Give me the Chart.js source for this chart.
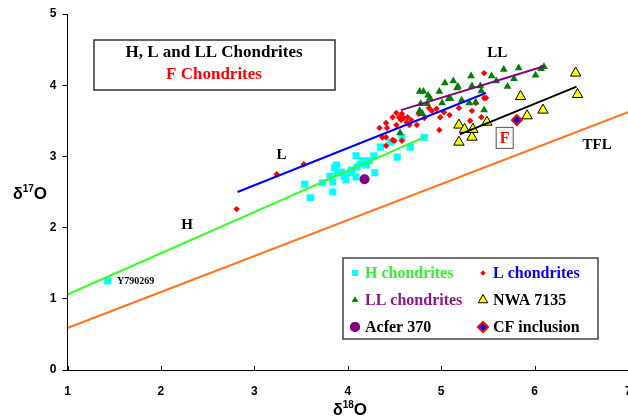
<!DOCTYPE html>
<html>
<head>
<meta charset="utf-8">
<script src="https://cdn.jsdelivr.net/npm/chart.js@4.4.1/dist/chart.umd.min.js"></script>
<style>
  html, body { margin: 0; padding: 0; background: #fff; overflow: hidden; }
  #wrap { width: 628px; height: 418px; position: relative; }
</style>
</head>
<body>
<div id="wrap"><canvas id="chart"></canvas></div>
<script>
const hPoints = [
  [1.43, 1.25], [3.54, 2.61], [3.60, 2.42], [3.84, 2.50], [3.73, 2.63], [3.81, 2.72],
  [3.84, 2.64], [3.88, 2.88], [3.89, 2.77], [3.86, 2.84], [3.96, 2.72], [3.98, 2.67],
  [3.93, 2.78], [4.03, 2.77], [4.09, 3.01], [4.10, 2.85], [4.09, 2.71], [4.16, 2.94],
  [4.20, 2.88], [4.23, 2.94], [4.28, 3.01], [4.29, 2.77], [4.35, 3.13], [4.53, 2.99],
  [4.67, 3.13], [4.13, 2.89], [4.04, 2.81], [4.58, 3.27], [4.46, 3.20], [4.82, 3.27]
];
const lPoints = [
  [2.81, 2.26], [3.24, 2.75], [3.53, 2.89], [4.34, 3.40], [4.41, 3.47], [4.42, 3.40],
  [4.37, 3.27], [4.48, 3.55], [4.52, 3.61], [4.55, 3.55], [4.57, 3.51], [4.60, 3.54],
  [4.63, 3.48], [4.58, 3.60], [4.64, 3.55], [4.68, 3.51], [4.66, 3.44], [4.52, 3.44],
  [4.74, 3.44], [4.82, 3.54], [4.87, 3.68], [4.90, 3.64], [4.95, 3.67], [4.99, 3.55],
  [5.03, 3.62], [5.09, 3.58], [4.98, 3.37], [4.76, 3.60], [5.19, 3.68], [5.33, 3.64],
  [5.43, 3.55], [5.46, 3.82], [5.46, 4.17], [5.48, 3.82], [5.37, 3.75], [4.50, 3.22],
  [4.41, 3.27], [4.48, 3.23], [4.58, 3.22], [4.41, 3.15], [5.31, 3.50]
];
const llPoints = [
  [4.56, 3.33], [4.77, 3.91], [4.81, 3.91], [4.86, 3.86], [4.98, 3.91], [5.04, 4.03],
  [5.13, 4.06], [5.18, 3.98], [5.32, 4.13], [5.33, 3.99], [5.42, 3.99], [5.54, 4.13],
  [5.59, 4.06], [5.67, 4.22], [5.71, 3.98], [5.78, 4.09], [5.83, 4.24], [6.01, 4.14],
  [6.10, 4.26], [6.07, 4.23], [5.01, 3.75], [5.10, 3.81], [5.17, 3.96], [5.22, 3.79],
  [5.37, 3.76], [5.46, 3.65], [4.78, 3.74], [4.85, 3.74], [4.77, 3.64], [4.80, 3.60],
  [4.88, 3.82], [5.08, 3.81], [5.30, 3.75], [5.43, 3.92]
];
const nwaPoints = [
  [5.19, 3.20], [5.19, 3.44], [5.25, 3.38], [5.33, 3.27], [5.34, 3.38], [5.49, 3.48],
  [5.85, 3.84], [5.92, 3.57], [6.09, 3.65], [6.44, 4.17], [6.46, 3.87]
];
const acferPoints = [[4.18, 2.68]];
const cfPoints = [[5.81, 3.51]];

// fractionation lines (end points)
const tflLine = [[1, 0.59], [7, 3.62]];
const hLine = [[1, 1.06], [4.82, 3.27]];
const lLine = [[2.82, 2.50], [5.48, 3.89]];
const llLine = [[4.57, 3.65], [6.11, 4.27]];
const nwaLine = [[5.20, 3.31], [6.45, 3.98]];

const xTicks = [1, 2, 3, 4, 5, 6, 7];
const yTicks = [0, 1, 2, 3, 4, 5];

// labels placed in data units
const notes = [
  { text: "H", x: 2.28, y: 2.04, size: 15, color: "#000", align: "center" },
  { text: "L", x: 3.29, y: 3.02, size: 15, color: "#000", align: "center" },
  { text: "LL", x: 5.60, y: 4.45, size: 15, color: "#000", align: "center" },
  { text: "TFL", x: 6.67, y: 3.16, size: 15, color: "#000", align: "center" },
  { text: "Y790269", x: 1.53, y: 1.25, size: 10, color: "#000", align: "left" }
];
const fBox = { text: "F", x: 5.68, y: 3.26 };

const toXY = arr => arr.map(p => ({ x: p[0], y: p[1] }));

const C = {
  h: "#00ffff", l: "#ff0000", ll: "#008000", nwa: "#ffff00", acfer: "#800080",
  hLine: "#33ff22", lLine: "#0000ff", llLine: "#800080", tfl: "#ff7418"
};

function lineSet(arr, color) {
  return { type: "line", data: toXY(arr), borderColor: color, borderWidth: 2,
           pointRadius: 0, showLine: true, fill: false, order: 0 };
}

const legendItems = [
  { text: "H chondrites", color: "#33ee33", style: "rect", r: 4, fill: C.h, stroke: C.h, bw: 0, col: 0, row: 0 },
  { text: "L chondrites", color: "#0000ff", style: "rectRot", r: 2.5, fill: C.l, stroke: C.l, bw: 0, col: 1, row: 0 },
  { text: "LL chondrites", color: "#8b168b", style: "triangle", r: 3.5, fill: C.ll, stroke: C.ll, bw: 0, col: 0, row: 1 },
  { text: "NWA 7135", color: "#000", style: "triangle", r: 5.5, fill: C.nwa, stroke: "#000", bw: 1, col: 1, row: 1 },
  { text: "Acfer 370", color: "#000", style: "circle", r: 5, fill: C.acfer, stroke: C.acfer, bw: 0, col: 0, row: 2 },
  { text: "CF inclusion", color: "#000", style: "rectRot", r: 5, fill: "#0000ff", stroke: "#ff0000", bw: 2, col: 1, row: 2 }
];

const decor = {
  id: "decor",
  afterDraw(chart) {
    const ctx = chart.ctx;
    const xs = chart.scales.x, ys = chart.scales.y;
    ctx.save();

    // inner tick marks on x axis
    ctx.strokeStyle = "#000";
    ctx.lineWidth = 1;
    xTicks.forEach(v => {
      const px = Math.round(xs.getPixelForValue(v)) + 0.5;
      ctx.beginPath();
      ctx.moveTo(px, ys.bottom);
      ctx.lineTo(px, ys.bottom - 4);
      ctx.stroke();
    });

    // axis titles with superscripts
    ctx.fillStyle = "#000";
    ctx.textBaseline = "alphabetic";
    ctx.textAlign = "left";
    function sup(x, y, a, b, c) {
      ctx.font = "bold 16px 'Liberation Sans', Arial";
      ctx.fillText(a, x, y);
      x += ctx.measureText(a).width;
      ctx.font = "bold 10px 'Liberation Sans', Arial";
      ctx.fillText(b, x, y - 7);
      x += ctx.measureText(b).width;
      ctx.font = "bold 17px 'Liberation Sans', Arial";
      ctx.fillText(c, x, y);
    }
    sup(13, 199, "\u03b4", "17", "O");
    sup(333, 415, "\u03b4", "18", "O");

    // line labels
    notes.forEach(n => {
      ctx.font = "bold " + n.size + "px 'Liberation Serif', 'Times New Roman'";
      ctx.fillStyle = n.color;
      ctx.textAlign = n.align;
      ctx.textBaseline = "middle";
      ctx.fillText(n.text, xs.getPixelForValue(n.x), ys.getPixelForValue(n.y));
    });

    // boxed F
    const fx = xs.getPixelForValue(fBox.x), fy = ys.getPixelForValue(fBox.y);
    ctx.strokeStyle = "#555";
    ctx.lineWidth = 1;
    ctx.strokeRect(fx - 8.5, fy - 10.5, 17, 21);
    ctx.font = "bold 16px 'Liberation Serif', 'Times New Roman'";
    ctx.fillStyle = "#ff0000";
    ctx.textAlign = "center";
    ctx.fillText(fBox.text, fx, fy + 1);

    // title box
    ctx.fillStyle = "#fff";
    ctx.fillRect(94, 40, 241, 50);
    ctx.strokeStyle = "#333";
    ctx.lineWidth = 1.5;
    ctx.strokeRect(94, 40, 241, 50);
    ctx.font = "bold 17px 'Liberation Serif', 'Times New Roman'";
    ctx.fillStyle = "#000";
    ctx.fillText("H, L and LL Chondrites", 214, 53);
    ctx.fillStyle = "#ff0000";
    ctx.fillText("F Chondrites", 214, 75);

    // legend box
    ctx.fillStyle = "#fff";
    ctx.fillRect(343, 258, 255, 81);
    ctx.strokeStyle = "#444";
    ctx.lineWidth = 1.5;
    ctx.strokeRect(343, 258, 255, 81);
    const colX = [355, 483], rowY = [273, 300, 327];
    ctx.font = "bold 16px 'Liberation Serif', 'Times New Roman'";
    ctx.textAlign = "left";
    legendItems.forEach(it => {
      const mx = colX[it.col], my = rowY[it.row];
      ctx.fillStyle = it.fill;
      ctx.strokeStyle = it.stroke;
      ctx.lineWidth = it.bw;
      Chart.helpers.drawPoint(ctx, { pointStyle: it.style, radius: it.r, rotation: 0, borderWidth: it.bw }, mx, my);
      if (!it.bw) ctx.fill();
      ctx.fillStyle = it.color;
      ctx.fillText(it.text, mx + 10, my + 1);
    });
    ctx.restore();
  }
};

new Chart(document.getElementById("chart"), {
  type: "scatter",
  data: {
    datasets: [
      { label: "H chondrites", data: toXY(hPoints), pointStyle: "rect", pointRadius: 5,
        backgroundColor: C.h, borderWidth: 0, order: 5 },
      { label: "L chondrites", data: toXY(lPoints), pointStyle: "rectRot", pointRadius: 3.2,
        backgroundColor: C.l, borderWidth: 0, order: 4 },
      { label: "LL chondrites", data: toXY(llPoints), pointStyle: "triangle", pointRadius: 4.5,
        backgroundColor: C.ll, borderWidth: 0, order: 3 },
      { label: "NWA 7135", data: toXY(nwaPoints), pointStyle: "triangle", pointRadius: 6,
        backgroundColor: C.nwa, borderColor: "#000", borderWidth: 1, order: 2 },
      { label: "Acfer 370", data: toXY(acferPoints), pointStyle: "circle", pointRadius: 5,
        backgroundColor: C.acfer, borderWidth: 0, order: 2 },
      { label: "CF inclusion", data: toXY(cfPoints), pointStyle: "rectRot", pointRadius: 5,
        backgroundColor: "#0000ff", borderColor: "#ff0000", borderWidth: 2, order: 1 },
      lineSet(tflLine, C.tfl),
      lineSet(hLine, C.hLine),
      lineSet(lLine, C.lLine),
      lineSet(llLine, C.llLine),
      lineSet(nwaLine, "#000")
    ]
  },
  options: {
    responsive: true,
    maintainAspectRatio: false,
    animation: false,
    layout: { autoPadding: false, padding: { top: 14, left: 0, right: 0, bottom: 0 } },
    plugins: { legend: { display: false }, tooltip: { enabled: false } },
    scales: {
      x: {
        type: "linear", min: 1, max: 7,
        afterBuildTicks: s => { s.ticks = xTicks.map(v => ({ value: v })); },
        afterFit: s => { s.height = 48; s.paddingLeft = 0; s.paddingRight = 0; },
        ticks: { color: "#000", padding: 14, font: { family: "'Liberation Sans', Arial", size: 12, weight: "bold" } },
        grid: { display: true, drawOnChartArea: false, drawTicks: false },
        border: { color: "#000", width: 1 }
      },
      y: {
        type: "linear", min: 0, max: 5,
        afterBuildTicks: s => { s.ticks = yTicks.map(v => ({ value: v })); },
        afterFit: s => { s.width = 67.5; s.paddingTop = 0; s.paddingBottom = 0; },
        ticks: { color: "#000", padding: 6, font: { family: "'Liberation Sans', Arial", size: 12, weight: "bold" } },
        grid: { display: true, drawOnChartArea: false, drawTicks: true, tickLength: 5, color: "#000" },
        border: { color: "#000", width: 1 }
      }
    }
  },
  plugins: [decor]
});
</script>
</body>
</html>
